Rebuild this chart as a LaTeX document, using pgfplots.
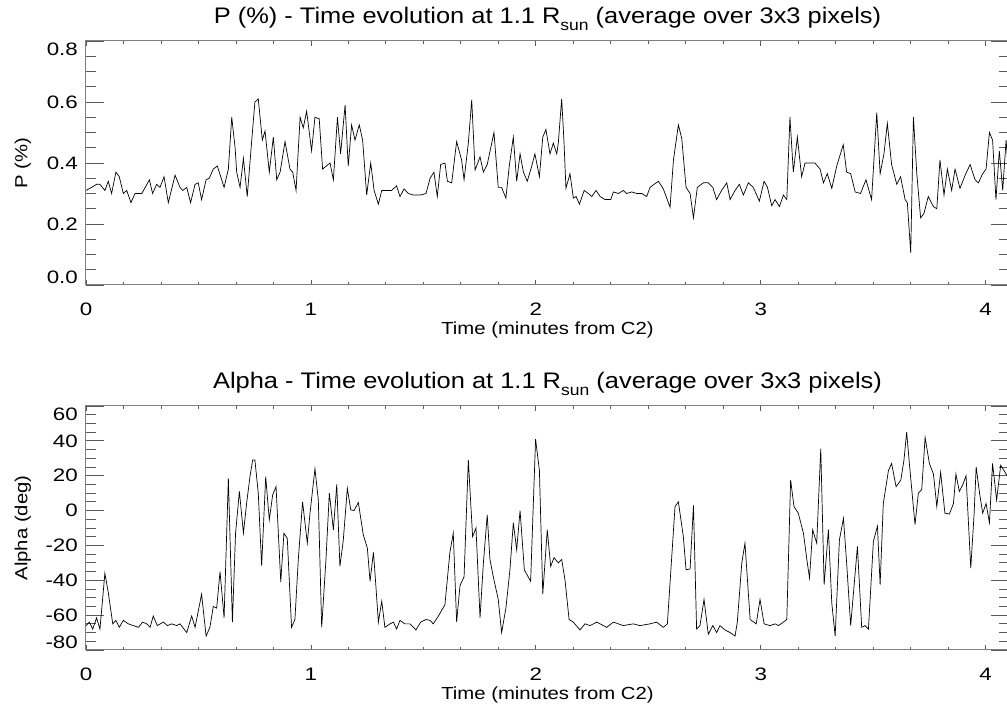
\documentclass[border=0pt]{standalone}
\usepackage{pgfplots}
\pgfplotsset{compat=1.18}
\usepackage{fontspec}
\setmainfont{Liberation Sans}
\newfontfamily\widefont[FakeStretch=1.16]{Liberation Sans}
\newfontfamily\tickfam[FakeStretch=1.24]{Liberation Sans}
\newfontfamily\titlefam[FakeStretch=1.13]{Liberation Sans}
\newcommand\lblfont{\widefont\fontsize{17.5}{17.5}\selectfont}
\newcommand\tckfont{\tickfam\fontsize{18}{18}\selectfont}
\newcommand\ttlfont{\titlefam\fontsize{22.5}{22.5}\selectfont}
\newcommand\Rsun{R\raisebox{-7pt}{\fontsize{15.5}{15.5}\selectfont sun}}
\pgfplotsset{idl/.style={
  scale only axis, width=923pt, height=244pt,
  xmin=0, xmax=4.104,
  xtick={0,1,2,3,4}, xticklabels={0,1,2,3,4},
  minor x tick num=5,
  tick align=inside, xtick pos=both, ytick pos=both,
  axis line style={black!50, line width=1pt},
  tick style={black!65, line width=0.8pt},
  x tick style={/pgfplots/major tick length=5pt, /pgfplots/minor tick length=3pt},
  y tick style={/pgfplots/major tick length=18pt, /pgfplots/minor tick length=10pt},
  tick label style={font=\tckfont},
  xticklabel style={anchor=base, yshift=-31pt},
  yticklabel style={anchor=east, inner xsep=0pt, xshift=-8pt},
  label style={font=\lblfont},
  xlabel={Time (minutes from C2)},
  xlabel style={at={(axis description cs:0.5,-0.2049)}, anchor=base},
  ylabel style={at={(axis description cs:-0.0634,0.5)}, anchor=base},
  title style={at={(axis description cs:0.5,1.049)}, anchor=base, font=\ttlfont},
}}
\begin{document}
\begin{tikzpicture}
\path[use as bounding box] (-86pt,-61pt) rectangle (921pt,650pt);
\begin{axis}[idl, at={(0,365pt)}, anchor=south west,
  ymin=0, ymax=0.8, ytick={0,0.2,0.4,0.6,0.8}, minor y tick num=3,
  yticklabels={{\raisebox{8pt}[\height][\depth]{0.0}},0.2,0.4,0.6,{\raisebox{-8pt}[\height][\depth]{0.8}}},
  ylabel={P (\%)},
  title={P (\%) - Time evolution at 1.1 \Rsun\ (average over 3x3 pixels)}]
\addplot[black, line width=0.7pt] coordinates {
(0.000,0.31)(0.025,0.32)(0.047,0.33)(0.062,0.33)(0.084,0.31)(0.099,0.34)(0.114,0.30)(0.133,0.37)(0.148,0.355)(0.166,0.30)(0.181,0.31)(0.200,0.27)(0.218,0.30)(0.248,0.30)(0.282,0.345)(0.296,0.30)(0.314,0.33)(0.329,0.32)(0.347,0.355)(0.366,0.27)(0.396,0.36)(0.418,0.32)(0.430,0.31)(0.448,0.32)(0.465,0.27)(0.485,0.33)(0.499,0.335)(0.514,0.28)(0.534,0.345)(0.548,0.35)(0.566,0.38)(0.584,0.39)(0.614,0.32)(0.633,0.38)(0.648,0.55)(0.663,0.45)(0.670,0.37)(0.685,0.32)(0.700,0.415)(0.717,0.29)(0.737,0.475)(0.751,0.60)(0.766,0.61)(0.784,0.475)(0.796,0.505)(0.815,0.37)(0.833,0.485)(0.848,0.345)(0.863,0.37)(0.885,0.47)(0.907,0.38)(0.919,0.37)(0.934,0.31)(0.952,0.55)(0.966,0.515)(0.981,0.57)(1.003,0.44)(1.018,0.55)(1.037,0.545)(1.052,0.38)(1.085,0.40)(1.100,0.345)(1.118,0.55)(1.132,0.43)(1.152,0.59)(1.166,0.39)(1.181,0.525)(1.196,0.475)(1.215,0.525)(1.230,0.475)(1.248,0.295)(1.266,0.40)(1.281,0.31)(1.300,0.265)(1.315,0.31)(1.337,0.31)(1.359,0.31)(1.381,0.325)(1.396,0.29)(1.414,0.315)(1.433,0.30)(1.455,0.295)(1.488,0.295)(1.512,0.30)(1.530,0.35)(1.547,0.37)(1.562,0.29)(1.577,0.395)(1.596,0.40)(1.607,0.34)(1.626,0.335)(1.648,0.47)(1.670,0.41)(1.681,0.345)(1.700,0.465)(1.715,0.607)(1.730,0.377)(1.752,0.42)(1.767,0.37)(1.784,0.395)(1.814,0.50)(1.833,0.32)(1.848,0.32)(1.867,0.285)(1.882,0.39)(1.900,0.485)(1.915,0.34)(1.930,0.43)(1.945,0.37)(1.962,0.34)(1.982,0.39)(1.996,0.43)(2.016,0.355)(2.031,0.485)(2.045,0.51)(2.063,0.43)(2.078,0.465)(2.093,0.43)(2.100,0.465)(2.115,0.61)(2.125,0.475)(2.134,0.317)(2.152,0.365)(2.167,0.285)(2.179,0.29)(2.194,0.265)(2.215,0.31)(2.234,0.30)(2.249,0.29)(2.268,0.31)(2.286,0.29)(2.308,0.28)(2.333,0.28)(2.345,0.305)(2.367,0.30)(2.389,0.31)(2.404,0.30)(2.426,0.305)(2.449,0.30)(2.471,0.30)(2.493,0.29)(2.508,0.32)(2.526,0.33)(2.545,0.34)(2.567,0.315)(2.597,0.255)(2.612,0.41)(2.634,0.525)(2.649,0.48)(2.668,0.32)(2.686,0.30)(2.701,0.22)(2.718,0.32)(2.745,0.335)(2.767,0.335)(2.787,0.32)(2.804,0.28)(2.826,0.31)(2.849,0.335)(2.864,0.28)(2.886,0.31)(2.905,0.33)(2.923,0.295)(2.945,0.335)(2.967,0.32)(2.994,0.275)(3.015,0.34)(3.030,0.32)(3.049,0.26)(3.064,0.28)(3.083,0.257)(3.101,0.295)(3.116,0.28)(3.130,0.55)(3.145,0.37)(3.163,0.485)(3.182,0.355)(3.197,0.40)(3.216,0.40)(3.241,0.40)(3.264,0.38)(3.279,0.335)(3.296,0.365)(3.316,0.317)(3.338,0.39)(3.367,0.46)(3.382,0.37)(3.400,0.365)(3.420,0.305)(3.444,0.30)(3.468,0.345)(3.493,0.28)(3.516,0.565)(3.531,0.365)(3.548,0.43)(3.563,0.53)(3.582,0.395)(3.605,0.33)(3.622,0.355)(3.642,0.28)(3.652,0.27)(3.667,0.105)(3.679,0.55)(3.694,0.365)(3.711,0.22)(3.726,0.235)(3.745,0.29)(3.768,0.257)(3.783,0.25)(3.797,0.41)(3.815,0.295)(3.830,0.38)(3.849,0.31)(3.864,0.38)(3.886,0.317)(3.909,0.36)(3.931,0.395)(3.953,0.345)(3.968,0.335)(3.987,0.365)(4.002,0.38)(4.017,0.50)(4.031,0.475)(4.046,0.28)(4.061,0.44)(4.076,0.31)(4.091,0.475)(4.104,0.35)
};
\end{axis}
\begin{axis}[idl, at={(0,0)}, anchor=south west,
  ymin=-80, ymax=60, ytick={-80,-60,-40,-20,0,20,40,60}, minor y tick num=3,
  yticklabels={{\raisebox{8pt}[\height][\depth]{-80}},-60,-40,-20,0,20,40,{\raisebox{-8pt}[\height][\depth]{60}}},
  ylabel={Alpha (deg)},
  title={Alpha - Time evolution at 1.1 \Rsun\ (average over 3x3 pixels)}]
\addplot[black, line width=0.7pt] coordinates {
(0.000,-66)(0.015,-64)(0.030,-68)(0.047,-61.5)(0.062,-68)(0.084,-36)(0.099,-47)(0.119,-65)(0.133,-63)(0.148,-67)(0.166,-63)(0.188,-65)(0.210,-66)(0.233,-67)(0.252,-64)(0.270,-65)(0.285,-67)(0.299,-60.5)(0.317,-66)(0.344,-64)(0.362,-66)(0.381,-65)(0.403,-66)(0.418,-65)(0.448,-70)(0.470,-60.5)(0.485,-67)(0.514,-48)(0.534,-72)(0.551,-67)(0.566,-55)(0.581,-56)(0.596,-35)(0.614,-61.5)(0.633,18.5)(0.651,-64)(0.665,-13)(0.682,11)(0.700,-13)(0.714,4)(0.729,19.4)(0.741,29)(0.751,29)(0.766,10)(0.781,-31.6)(0.799,19.4)(0.815,-5.3)(0.830,9)(0.845,13.7)(0.866,-41)(0.880,-13)(0.895,-16)(0.914,-67)(0.929,-62.5)(0.944,-28)(0.963,5)(0.984,-18.7)(0.996,-1.5)(1.018,24)(1.033,6)(1.048,-67)(1.067,-28)(1.082,10)(1.100,-11)(1.115,15)(1.129,-32)(1.144,-17)(1.162,12.8)(1.177,0.4)(1.192,0)(1.211,4.6)(1.233,-14)(1.251,-21.5)(1.263,-40.6)(1.278,-24)(1.285,-36)(1.300,-64)(1.315,-52)(1.329,-67)(1.352,-65)(1.367,-64)(1.381,-68)(1.396,-63)(1.418,-65)(1.441,-65)(1.467,-68.5)(1.488,-64)(1.512,-62.5)(1.530,-63)(1.544,-65)(1.567,-60.5)(1.596,-54)(1.618,-24)(1.633,-13)(1.648,-64)(1.663,-43)(1.681,-38)(1.700,29)(1.719,-15)(1.734,-10)(1.752,-61.5)(1.767,-30)(1.784,-2.5)(1.796,-28)(1.811,-38)(1.833,-51)(1.848,-70)(1.867,-56)(1.885,-34)(1.900,-7)(1.915,-22.5)(1.930,0)(1.949,-34)(1.977,-40.6)(1.999,41)(2.016,23)(2.031,-48)(2.051,-11)(2.066,-32)(2.081,-27)(2.100,-30)(2.115,-28)(2.130,-40)(2.148,-62.5)(2.167,-64)(2.196,-68.5)(2.219,-65)(2.241,-66)(2.271,-64)(2.315,-67)(2.345,-64)(2.389,-66)(2.433,-65)(2.463,-66)(2.508,-65)(2.537,-64)(2.567,-67)(2.585,-65)(2.619,2.3)(2.634,5)(2.656,-15)(2.668,-34)(2.686,-33.5)(2.701,3)(2.715,-68)(2.730,-66)(2.748,-51)(2.767,-71)(2.787,-66)(2.804,-70)(2.819,-66)(2.841,-68.5)(2.864,-70)(2.886,-72)(2.896,-64)(2.916,-30)(2.930,-18.7)(2.953,-62.5)(2.980,-65)(2.997,-51)(3.015,-65)(3.041,-66)(3.064,-65)(3.079,-66)(3.101,-64)(3.116,-62.5)(3.133,17.5)(3.148,2.3)(3.167,-1.5)(3.190,-13)(3.205,-28)(3.217,-38.7)(3.231,-11)(3.249,-18.7)(3.267,35.6)(3.282,-42.5)(3.301,-11)(3.316,-53)(3.331,-72)(3.350,-16.8)(3.368,-4.4)(3.382,-30)(3.400,-66)(3.430,-20.6)(3.449,-67)(3.464,-66)(3.479,-68)(3.501,-17.7)(3.519,-9)(3.531,-42.5)(3.545,4)(3.568,23)(3.582,27)(3.602,13.7)(3.623,17.5)(3.637,29)(3.649,45)(3.661,27)(3.676,6)(3.686,-8)(3.701,10)(3.716,12)(3.731,42)(3.750,27)(3.768,21)(3.783,2.3)(3.800,22)(3.819,-1.5)(3.839,-2)(3.857,4)(3.868,21)(3.883,11)(3.898,14.7)(3.913,20)(3.934,-33)(3.949,-1.5)(3.958,25)(3.973,10)(3.987,-1.5)(4.002,4)(4.017,-7)(4.031,27)(4.049,6)(4.067,26)(4.091,21)(4.104,18)
};
\end{axis}
\end{tikzpicture}
\end{document}
